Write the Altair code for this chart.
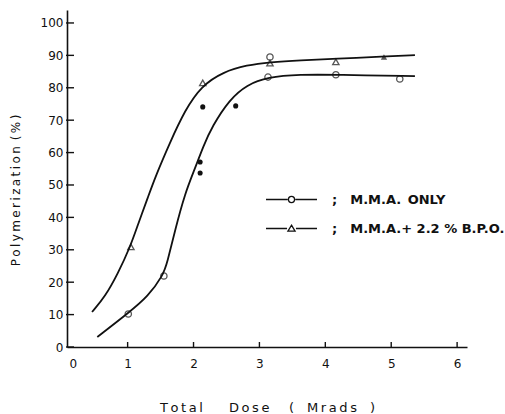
import altair as alt
import pandas as pd

# ---- data ----
# fitted curves
upper_x = [0.46, 0.66, 0.85, 1.04, 1.16, 1.31, 1.42, 1.64, 1.87, 2.12, 2.45, 2.81, 3.16, 3.62, 4.16, 4.89, 5.36]
upper_y = [10.8, 15.6, 22.6, 30.9, 38.0, 46.3, 52.5, 63.0, 73.1, 80.6, 84.9, 87.0, 87.9, 88.5, 89.0, 89.6, 90.1]
lower_x = [0.54, 1.01, 1.31, 1.54, 1.60, 1.72, 1.87, 2.02, 2.15, 2.28, 2.55, 2.81, 3.12, 3.62, 4.16, 5.36]
lower_y = [3.1, 10.5, 15.6, 22.2, 25.9, 36.1, 47.4, 55.0, 62.0, 68.0, 76.5, 80.9, 83.3, 84.1, 84.0, 83.6]

# measured points
mma_x = [1.01, 1.55, 3.13, 3.16, 4.16, 5.13]
mma_y = [10.2, 21.9, 83.3, 89.5, 84.0, 82.7]
bpo_x = [1.05, 2.14, 3.16, 4.16]
bpo_y = [30.9, 81.5, 87.6, 88.0]
bpo_fill_x = [4.89]
bpo_fill_y = [89.5]
dot_x = [2.10, 2.10, 2.14, 2.64]
dot_y = [53.7, 57.1, 74.1, 74.4]

series = ["M.M.A.\u2002ONLY", "M.M.A.+ 2.2 % B.P.O."]
y_ticks = [0, 10, 20, 30, 40, 50, 60, 70, 80, 90, 100]
x_ticks = [1, 2, 3, 4, 5, 6]

def spaced(s):
    return "\u2009".join(s)

EN = "\u2002"
x_title = (spaced("Total") + EN * 4 + spaced("Dose") + EN * 3 + "(" + EN * 2
           + spaced("Mrads") + EN * 2 + ")")
y_title = spaced("Polymerization") + EN + spaced("(%)")

curves = pd.concat([
    pd.DataFrame({"dose": upper_x, "pol": upper_y, "series": series[1]}),
    pd.DataFrame({"dose": lower_x, "pol": lower_y, "series": series[0]}),
])
pts = pd.concat([
    pd.DataFrame({"dose": mma_x, "pol": mma_y, "series": series[0]}),
    pd.DataFrame({"dose": bpo_x, "pol": bpo_y, "series": series[1]}),
])
filled_tri = pd.DataFrame({"dose": bpo_fill_x, "pol": bpo_fill_y})
dots = pd.DataFrame({"dose": dot_x, "pol": dot_y})
yt = pd.DataFrame({"pol": y_ticks})
xt = pd.DataFrame({"dose": x_ticks})

W, H = 400, 337
INK = "#111111"
FONT = "DejaVu Sans"

xs = alt.Scale(domain=[0.08, 6.15], nice=False, zero=False)
ys = alt.Scale(domain=[0, 104], nice=False)

x_axis = alt.Axis(values=[0.17] + x_ticks, labelExpr="datum.value < 0.5 ? '0' : datum.label",
                  format="d", ticks=False, grid=False, domainColor=INK, domainWidth=1.6,
                  labelFont=FONT, labelFontSize=12, labelColor=INK, labelPadding=11,
                  title=x_title, titleFont=FONT, titleFontSize=13, titleFontWeight="normal",
                  titleColor=INK, titlePadding=32)
y_axis = alt.Axis(values=y_ticks, format="d", ticks=False, grid=False, domainColor=INK, domainWidth=1.6,
                  labelFont=FONT, labelFontSize=12, labelColor=INK, labelPadding=4,
                  title=y_title, titleFont=FONT, titleFontSize=12, titleFontWeight="normal",
                  titleColor=INK, titleX=-45, titleY=180, titleAlign="center", titleAngle=270,
                  titleBaseline="bottom")

X = alt.X("dose:Q", scale=xs, axis=x_axis)
Y = alt.Y("pol:Q", scale=ys, axis=y_axis)

lines = alt.Chart(curves).mark_line(color=INK, strokeWidth=1.8, interpolate="basis").encode(
    x=X, y=Y, detail="series:N")

shape_pts = alt.Chart(pts).mark_point(color=INK, filled=False, strokeWidth=1.3, size=40).encode(
    x=X, y=Y,
    shape=alt.Shape("series:N", scale=alt.Scale(domain=series, range=["circle", "triangle-up"]),
                    legend=None))

circ_path = ("M-2,0L-0.3,0M0.3,0L2,0M0.24,0A0.24,0.24,0,1,1,-0.24,0A0.24,0.24,0,1,1,0.24,0")
tri_path = ("M-2,0L-0.35,0M0.35,0L2,0M0,-0.26L0.28,0.2L-0.28,0.2Z")

legend_layer = alt.Chart(pts).mark_point(color=INK, filled=False, strokeWidth=1.3, opacity=0).encode(
    x=X, y=Y,
    shape=alt.Shape("series:N", scale=alt.Scale(domain=series, range=[circ_path, tri_path]),
                    legend=alt.Legend(title=None, orient="none", legendX=211, legendY=176,
                                      symbolSize=650, symbolOpacity=1, symbolStrokeWidth=1.3,
                                      symbolStrokeColor=INK, symbolFillColor="white",
                                      labelExpr="';\u2003' + datum.label",
                                      labelFont=FONT, labelFontSize=13, labelFontWeight="bold",
                                      labelColor=INK, labelOffset=27, rowPadding=8,
                                      labelLimit=300)))

ftri = alt.Chart(filled_tri).mark_point(shape="triangle-up", filled=True, color=INK, size=40).encode(
    x=X, y=Y)
dot_layer = alt.Chart(dots).mark_circle(color=INK, size=26, opacity=1).encode(x=X, y=Y)

ytick = alt.Chart(yt).mark_rule(color=INK, strokeWidth=1.4).encode(
    y=Y, x=alt.value(-1), x2=alt.value(7))
xtick = alt.Chart(xt).mark_rule(color=INK, strokeWidth=1.4).encode(
    x=X, y=alt.value(H), y2=alt.value(H - 5))

chart = alt.layer(lines, shape_pts, legend_layer, ftri, dot_layer, ytick, xtick).resolve_scale(
    shape="independent").properties(
    width=W, height=H, background="white",
    autosize=alt.AutoSizeParams(type="none"),
    padding={"left": 67, "top": 10, "right": 38, "bottom": 67},
).configure_view(stroke=None)

chart.save("out.html", embed_options={"renderer": "svg", "actions": False})
